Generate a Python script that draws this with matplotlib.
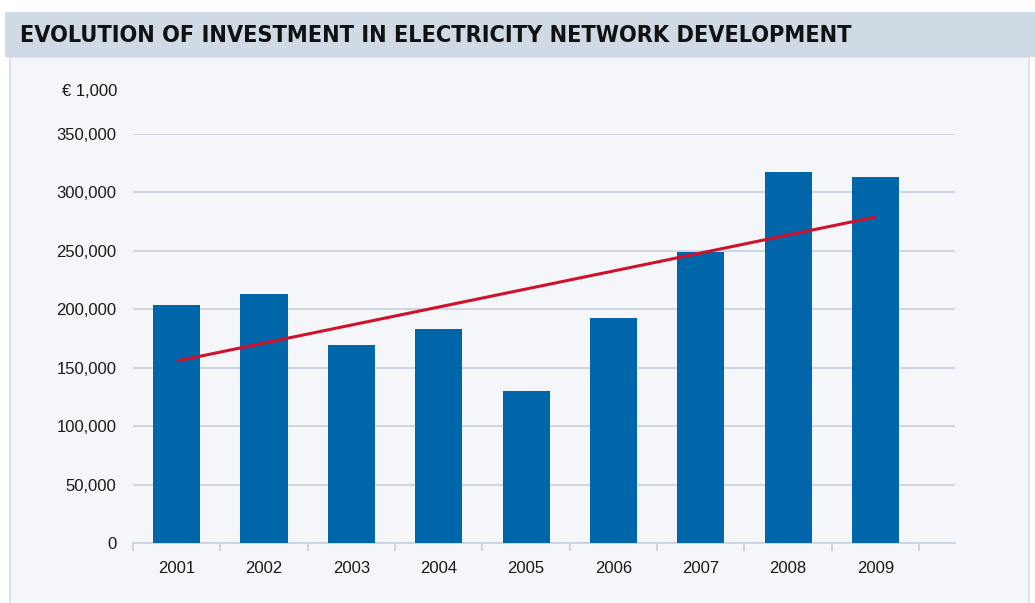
#!/usr/bin/env python3
"""Evolution of investment in electricity network development."""

import matplotlib

matplotlib.use("Agg")

import matplotlib.pyplot as plt
from matplotlib.patches import Rectangle
import numpy as np
from matplotlib.ticker import FuncFormatter, MultipleLocator

YEARS = ["2001", "2002", "2003", "2004", "2005", "2006", "2007", "2008", "2009"]
INVESTMENT = [204000, 213000, 169500, 183000, 130000, 192500, 249000, 317500, 313000]
TREND_ENDS = [155700, 279000]  # trend line value at first and last year

BAR_COLOR = "#0066aa"
TREND_COLOR = "#d0112b"
GRID_COLOR = "#c6d0dd"
PANEL_BG = "#f4f6fa"
TITLE_BG = "#cfdae4"

W, H = 1035, 603


def main() -> None:
    plt.rcParams["font.family"] = ["Liberation Sans", "DejaVu Sans"]
    fig = plt.figure(figsize=(W / 100, H / 100), dpi=100)
    fig.patch.set_facecolor("white")

    # title band and panel background
    fig.patches.append(Rectangle((5 / W, 1 - 57 / H), 1, 45 / H, transform=fig.transFigure,
                                 facecolor=TITLE_BG, edgecolor="none", zorder=-2))
    fig.patches.append(Rectangle((10 / W, -0.01), 1019 / W, 1 - 57 / H + 0.01, transform=fig.transFigure,
                                 facecolor=PANEL_BG, edgecolor="#d5dde8", linewidth=1.2, zorder=-2))
    fig.text(20 / W, 1 - 36 / H, "EVOLUTION OF INVESTMENT IN ELECTRICITY NETWORK DEVELOPMENT",
             family=["Liberation Sans Narrow", "DejaVu Sans"], fontstretch="condensed",
             fontweight="bold", fontsize=16.8, va="center", ha="left", color="#111111")

    ax = fig.add_axes([133 / W, 1 - 543 / H, 822 / W, 409 / H])
    ax.set_zorder(1)
    ax.set_facecolor("none")
    x = np.arange(len(YEARS))
    ax.bar(x, INVESTMENT, width=0.54, color=BAR_COLOR, zorder=3)
    ax.plot([x[0], x[-1]], TREND_ENDS, color=TREND_COLOR, linewidth=2.2, zorder=4,
            solid_capstyle="butt")

    ax.set_xlim(-0.5, 8.91)
    ax.set_ylim(0, 350000)
    ax.yaxis.set_major_locator(MultipleLocator(50000))
    ax.yaxis.set_major_formatter(FuncFormatter(lambda v, _: f"{v:,.0f}"))
    ax.grid(axis="y", color=GRID_COLOR, linewidth=1.2, zorder=0)
    ax.set_axisbelow(True)
    for side in ["top", "right", "left"]:
        ax.spines[side].set_visible(False)
    ax.spines["bottom"].set_color(GRID_COLOR)
    ax.spines["bottom"].set_linewidth(1.2)

    ax.set_xticks(x)
    ax.set_xticklabels(YEARS)
    ax.set_xticks(np.arange(-0.5, len(YEARS), 1.0), minor=True)
    ax.tick_params(axis="x", which="major", length=0, pad=13, labelsize=12, labelcolor="#1a1a1a")
    ax.tick_params(axis="x", which="minor", length=6, width=1.2, color=GRID_COLOR)
    ax.tick_params(axis="y", length=0, pad=12, labelsize=12, labelcolor="#1a1a1a")

    fig.text(117 / W, 1 - 91 / H, "€ 1,000", ha="right", va="center", fontsize=12, color="#1a1a1a")

    fig.savefig("out.png", dpi=100)
    plt.close(fig)


if __name__ == "__main__":
    main()
